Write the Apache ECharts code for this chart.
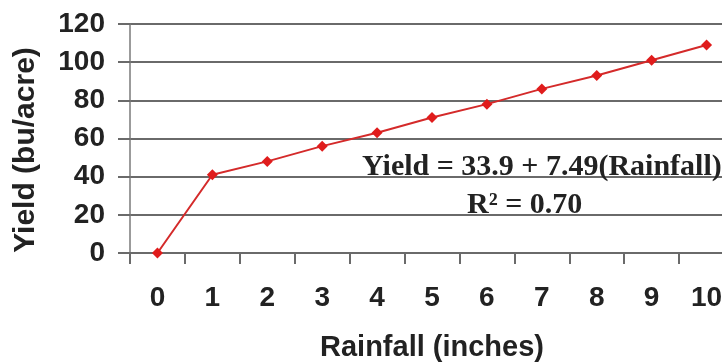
<!DOCTYPE html>
<html>
<head>
<meta charset="utf-8">
<script src="https://cdn.jsdelivr.net/npm/echarts@6/dist/echarts.min.js"></script>
<style>
html,body{margin:0;padding:0;background:#fff;overflow:hidden;}
#c{width:740px;height:362px;}
</style>
</head>
<body>
<div id="c"></div>
<script>
const rainfall = ['0','1','2','3','4','5','6','7','8','9','10'];
const yieldValues = [0, 41, 48, 56, 63, 71, 78, 86, 93, 101, 109];
const yTicks = [0, 20, 40, 60, 80, 100, 120];
const xTitle = 'Rainfall (inches)';
const yTitle = 'Yield (bu/acre)';
const eqLine1 = 'Yield = 33.9 + 7.49(Rainfall)';
const eqLine2 = 'R² = 0.70';

const chart = echarts.init(document.getElementById('c'), null, {renderer:'canvas'});
const sans = '"Liberation Sans", Arial, sans-serif';
const serif = '"Liberation Serif", "Times New Roman", serif';
chart.setOption({
  backgroundColor: '#fff',
  animation: false,
  grid: {left: 130, top: 24, width: 604, bottom: 109, containLabel: false, outerBoundsMode: 'none'},
  xAxis: {
    type: 'category',
    data: rainfall,
    boundaryGap: true,
    name: xTitle,
    nameLocation: 'middle',
    nameGap: 80,
    nameTextStyle: {fontFamily: sans, fontWeight: 'bold', fontSize: 29, color: '#222'},
    axisLine: {show: true, lineStyle: {color: '#6a6a6a', width: 2}},
    axisTick: {show: true, alignWithLabel: false, length: 11, lineStyle: {color: '#6a6a6a', width: 2}},
    axisLabel: {fontFamily: sans, fontWeight: 'bold', fontSize: 28, color: '#222', margin: 31},
    splitLine: {show: false}
  },
  yAxis: {
    type: 'value',
    min: yTicks[0],
    max: yTicks[yTicks.length - 1],
    interval: 20,
    axisLine: {show: true, lineStyle: {color: '#7a7a7a', width: 1.5}},
    axisTick: {show: true, length: 12, lineStyle: {color: '#6a6a6a', width: 2}},
    axisLabel: {fontFamily: sans, fontWeight: 'bold', fontSize: 28, color: '#222', margin: 25},
    splitLine: {show: true, lineStyle: {color: '#6a6a6a', width: 2}}
  },
  series: [{
    type: 'line',
    data: yieldValues,
    symbol: 'diamond',
    symbolSize: 11,
    lineStyle: {color: '#d42a2a', width: 2},
    itemStyle: {color: '#e01c1c'},
    z: 5
  }],
  graphic: [
    {type: 'text', x: 26, y: 150, rotation: Math.PI / 2, z: 10,
     style: {text: yTitle, fontFamily: sans, fontWeight: 'bold', fontSize: 30, fill: '#222', align: 'center', verticalAlign: 'middle'}},
    {type: 'text', left: 362, top: 152, z: 10,
     style: {text: eqLine1, fontFamily: serif, fontWeight: 'bold', fontSize: 30, fill: '#222'}},
    {type: 'text', left: 467, top: 190, z: 10,
     style: {text: eqLine2, fontFamily: serif, fontWeight: 'bold', fontSize: 30, fill: '#222'}}
  ]
});
</script>
</body>
</html>
